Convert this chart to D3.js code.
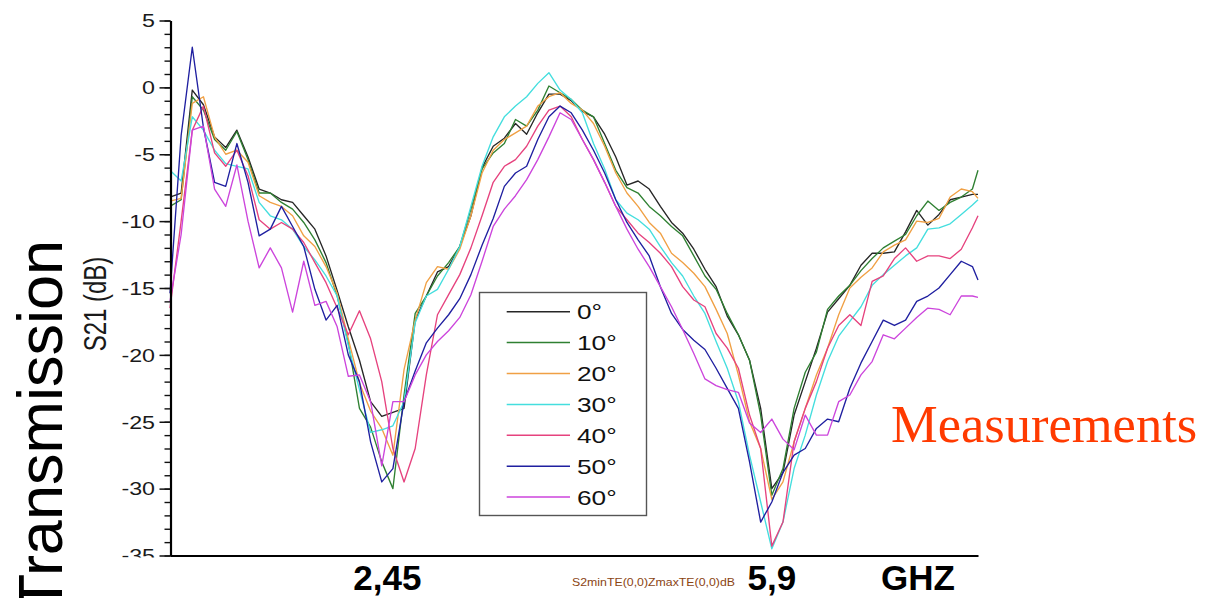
<!DOCTYPE html>
<html><head><meta charset="utf-8">
<script src="https://cdn.jsdelivr.net/npm/d3@7"></script>
<style>body{margin:0;background:#fff} svg{display:block}</style>
</head><body><svg id="c" width="1205" height="598"></svg>
<script>
// ---------- DATA ----------
const freqGHz = [0.5,0.6,0.7,0.8,0.9,1.0,1.1,1.2,1.3,1.4,1.5,1.6,1.7,1.8,1.9,2.0,2.1,2.2,2.3,2.4,2.5,2.6,2.7,2.8,2.9,3.0,3.1,3.2,3.3,3.4,3.5,3.6,3.7,3.8,3.9,4.0,4.1,4.2,4.3,4.4,4.5,4.6,4.7,4.8,4.9,5.0,5.1,5.2,5.3,5.4,5.5,5.6,5.7,5.8,5.9,6.0,6.1,6.2,6.3,6.4,6.5,6.6,6.7,6.8,6.9,7.0,7.1,7.2,7.3,7.4,7.5,7.6,7.7,7.75];

const deg0 = [
-8.2,-7.9,-0.2,-1.3,-3.7,-4.5,-3.2,-5.2,-7.6,-7.9,
-8.4,-8.6,-9.6,-10.6,-12.6,-15.2,-17.9,-20.4,-23.5,-24.6,
-24.3,-24.0,-17.4,-15.6,-13.8,-13.4,-11.9,-9.6,-6.0,
-4.4,-3.8,-2.7,-3.5,-1.9,-0.5,-0.5,-1.0,-1.8,-2.2,
-3.5,-5.2,-7.3,-7.0,-7.6,-8.9,-10.1,-10.9,-12.1,-13.6,
-14.9,-17.1,-18.5,-20.4,-24.0,-30.0,-28.8,-24.5,-22.0,
-19.5,-16.8,-15.8,-14.8,-13.3,-12.4,-12.4,-12.3,-10.8,-9.2,
-10.3,-9.5,-8.4,-8.2,-8.0,-8.0];

const deg10 = [
-8.9,-8.4,-0.7,-1.7,-3.9,-4.7,-3.3,-5.4,-7.9,-7.9,
-8.6,-9.1,-10.1,-11.4,-13.1,-15.6,-19.1,-24.0,-25.4,-28.0,
-30.0,-23.0,-16.9,-15.6,-14.1,-13.1,-11.9,-9.1,-6.1,
-4.9,-4.2,-2.4,-2.9,-1.7,0.1,-0.4,-0.9,-1.7,-2.2,
-4.2,-6.2,-7.5,-7.9,-8.9,-9.6,-10.4,-11.1,-12.6,-14.1,
-15.1,-16.9,-18.5,-20.4,-24.5,-30.5,-28.5,-24.0,-21.3,
-19.8,-16.6,-15.6,-14.8,-13.7,-12.8,-12.0,-11.5,-11.0,-9.6,
-8.5,-9.2,-8.6,-8.2,-7.6,-6.2];

const deg20 = [
-8.5,-8.3,-1.2,-0.7,-3.7,-5.0,-4.7,-5.6,-8.1,-8.6,
-8.9,-9.6,-11.1,-11.9,-13.4,-15.4,-18.8,-22.1,-24.2,-25.5,
-27.5,-21.1,-17.4,-14.6,-13.4,-13.6,-12.1,-9.6,-6.4,
-4.7,-3.9,-3.4,-2.9,-1.4,-0.7,-0.4,-1.2,-1.7,-2.7,
-4.4,-6.4,-7.9,-8.9,-10.1,-10.9,-12.4,-13.1,-13.9,-14.9,
-16.6,-18.4,-21.5,-25.0,-27.0,-30.8,-29.5,-26.5,-24.0,
-21.5,-19.5,-17.0,-15.0,-14.2,-13.5,-12.3,-11.8,-11.4,-10.0,
-10.1,-9.8,-8.2,-7.6,-7.8,-8.3];

const deg30 = [
-6.2,-7.0,-2.2,-3.2,-4.7,-5.7,-5.9,-6.1,-8.6,-9.6,
-9.9,-10.6,-11.9,-12.9,-14.1,-15.6,-19.3,-22.6,-25.8,-25.6,
-25.3,-23.5,-17.6,-15.6,-15.1,-13.6,-11.9,-8.9,-5.9,
-3.7,-2.2,-1.4,-0.7,0.3,1.1,-0.2,-0.9,-1.9,-4.2,
-6.1,-8.4,-9.4,-9.9,-10.6,-11.9,-13.1,-14.1,-15.6,-16.9,
-19.0,-21.0,-23.5,-27.5,-31.0,-34.5,-32.5,-28.5,-26.0,
-23.0,-20.5,-18.6,-17.5,-16.4,-14.8,-14.0,-13.3,-12.6,-12.0,
-10.6,-10.5,-10.2,-9.5,-8.8,-8.4];

const deg40 = [
-16.5,-10.0,-3.2,-1.4,-4.9,-5.9,-4.7,-6.6,-9.9,-10.6,
-10.1,-10.6,-11.6,-13.1,-14.6,-16.5,-18.5,-16.7,-18.8,-22.0,
-27.0,-29.5,-27.0,-21.5,-17.0,-15.5,-14.0,-12.0,-9.6,
-7.1,-5.9,-5.4,-4.4,-2.9,-1.7,-1.4,-2.2,-3.9,-5.4,
-7.1,-8.9,-9.9,-10.9,-11.6,-12.4,-13.4,-14.9,-15.9,-16.4,
-18.4,-19.5,-21.0,-24.5,-27.0,-34.3,-32.5,-26.5,-24.0,
-22.0,-19.5,-17.8,-17.0,-17.8,-14.5,-14.1,-12.8,-12.0,-13.0,
-12.6,-12.6,-12.8,-12.1,-10.5,-9.6];

const deg50 = [
-15.4,-3.6,3.0,-3.0,-7.1,-7.4,-4.2,-7.1,-11.1,-10.6,
-8.9,-10.4,-11.9,-15.1,-17.4,-16.3,-20.0,-22.0,-26.5,-29.5,
-28.5,-23.5,-21.2,-19.1,-18.0,-17.0,-15.8,-14.0,-11.8,
-9.8,-7.4,-6.4,-5.9,-3.9,-2.2,-1.4,-1.9,-3.2,-4.7,
-6.4,-8.4,-10.1,-11.4,-12.6,-14.9,-16.9,-18.1,-18.9,-19.6,
-21.0,-22.5,-24.0,-28.0,-32.5,-31.0,-28.8,-27.5,-27.0,
-25.5,-24.8,-25.0,-22.5,-20.6,-19.0,-17.4,-17.8,-17.4,-16.0,
-15.6,-15.0,-14.0,-13.0,-13.4,-14.4];

const deg60 = [
-16.0,-11.0,-3.2,-2.9,-7.6,-8.9,-5.8,-10.0,-13.5,-12.0,
-13.5,-16.8,-13.0,-16.3,-16.0,-17.9,-21.6,-21.5,-23.5,-28.3,
-23.5,-23.5,-21.5,-20.0,-19.0,-18.2,-17.2,-15.5,-13.0,
-10.4,-9.1,-8.1,-6.9,-5.4,-3.7,-1.9,-2.4,-3.9,-5.4,
-7.1,-8.9,-10.6,-12.1,-13.4,-14.9,-16.4,-18.1,-19.9,-21.8,
-22.3,-22.6,-22.8,-25.1,-25.8,-24.8,-26.3,-27.1,-24.5,
-26.0,-26.0,-23.5,-23.0,-21.5,-20.5,-18.5,-18.8,-18.0,-17.2,
-16.5,-16.6,-17.0,-15.6,-15.6,-15.7];

const seriesNames = ["0°","10°","20°","30°","40°","50°","60°"];
const seriesValues = [deg0, deg10, deg20, deg30, deg40, deg50, deg60];
const seriesColors = ["#262626","#2f8032","#f0a044","#44dede","#e6427e","#1f1fa0","#cc45dc"];

const yTickValues = [5,0,-5,-10,-15,-20,-25,-30,-35];
const xMarkFreqs = [2.45, 5.9];
const xMarkLabels = ["2,45","5,9"];

// ---------- CHART ----------
const svg = d3.select('#c');
svg.append('rect').attr('width',1205).attr('height',598).attr('fill','#fff');

const x = d3.scaleLinear().domain([0.5, 7.75]).range([170, 978]);
const y = d3.scaleLinear().domain([-35, 5]).range([555.5, 20.5]);
const sans = '"Liberation Sans", Arial, Helvetica, sans-serif';

svg.append('defs').append('clipPath').attr('id','yclip')
  .append('rect').attr('x',-200).attr('y',0).attr('width',400).attr('height',557.5);

// series lines
const line = d3.line().x((d,i)=>x(freqGHz[i])).y(d=>y(d));
svg.append('g').selectAll('path').data(seriesValues).join('path')
  .attr('d', d=>line(d))
  .attr('fill','none')
  .attr('stroke',(d,i)=>seriesColors[i])
  .attr('stroke-width',1.35)
  .attr('stroke-linejoin','round');

// minor y ticks
const yMinor = svg.append('g').attr('transform','translate(170.5,0)')
  .call(d3.axisLeft(y).tickValues(d3.range(-35, 6, 1)).tickSize(6).tickSizeOuter(0).tickFormat(''));
yMinor.select('.domain').remove();
yMinor.selectAll('line').attr('stroke','#111').attr('stroke-width',1.4);

// major y axis
const yAxis = svg.append('g').attr('transform','translate(170.5,0)').attr('clip-path','url(#yclip)')
  .call(d3.axisLeft(y).tickValues(yTickValues).tickSize(11).tickSizeOuter(0).tickFormat(d=>String(d)));
yAxis.select('.domain').attr('stroke','#000').attr('stroke-width',2.2);
yAxis.selectAll('.tick line').attr('stroke','#111').attr('stroke-width',1.5);
yAxis.selectAll('.tick text')
  .attr('x', -15.5/1.33).attr('dy','0.36em')
  .attr('transform','scale(1.33,1)')
  .attr('font-family', sans).attr('font-size', 17.5).attr('fill','#1a1a1a');

// x axis
const xAxis = svg.append('g').attr('transform','translate(0,555.5)')
  .call(d3.axisBottom(x).tickValues([]).tickSizeOuter(0));
xAxis.select('.domain').attr('stroke','#000').attr('stroke-width',2);

// bottom labels
svg.append('g').selectAll('text').data(xMarkFreqs).join('text')
  .attr('x', d=>x(d)).attr('y', 590)
  .attr('text-anchor','middle')
  .attr('font-family', sans).attr('font-weight','bold').attr('font-size',35)
  .attr('fill','#000')
  .text((d,i)=>xMarkLabels[i]);
svg.append('text').attr('x',918).attr('y',590).attr('text-anchor','middle')
  .attr('font-family', sans).attr('font-weight','bold').attr('font-size',35)
  .attr('fill','#000').text('GHZ');
svg.append('text').attr('x',572).attr('y',586)
  .attr('font-family', sans).attr('font-size',11)
  .attr('textLength',163).attr('lengthAdjust','spacingAndGlyphs')
  .attr('fill','#8b4513').text('S2minTE(0,0)ZmaxTE(0,0)dB');

// y labels
svg.append('text').attr('transform','translate(106,304) scale(1.27,1) rotate(-90)')
  .attr('text-anchor','middle')
  .attr('font-family', sans).attr('font-size',24).attr('fill','#1a1a1a')
  .text('S21 (dB)');
svg.append('text').attr('transform','translate(62,240) rotate(-90)')
  .attr('text-anchor','end')
  .attr('font-family', sans).attr('font-size',63).attr('fill','#000')
  .text('Transmission');

// Measurements
svg.append('text').attr('x',891).attr('y',441.5)
  .attr('font-family','"Liberation Serif", "Times New Roman", serif')
  .attr('font-size',52.5).attr('fill','#ff3a00')
  .text('Measurements');

// legend
const lg = svg.append('g');
lg.append('rect').attr('x',479.5).attr('y',292.5).attr('width',167).attr('height',223)
  .attr('fill','#fff').attr('stroke','#555').attr('stroke-width',1.4);
const rows = lg.selectAll('g.row').data(seriesNames).join('g')
  .attr('class','row')
  .attr('transform',(d,i)=>`translate(0,${311.7 + i*30.9})`);
rows.append('line').attr('x1',506.7).attr('x2',570).attr('y1',0).attr('y2',0)
  .attr('stroke',(d,i)=>seriesColors[i]).attr('stroke-width',1.5);
rows.append('text')
  .attr('transform','translate(577,0) scale(1.25,1)')
  .attr('dy','0.36em')
  .attr('font-family', sans).attr('font-size',21).attr('fill','#111')
  .text(d=>d);
</script>
</body></html>
